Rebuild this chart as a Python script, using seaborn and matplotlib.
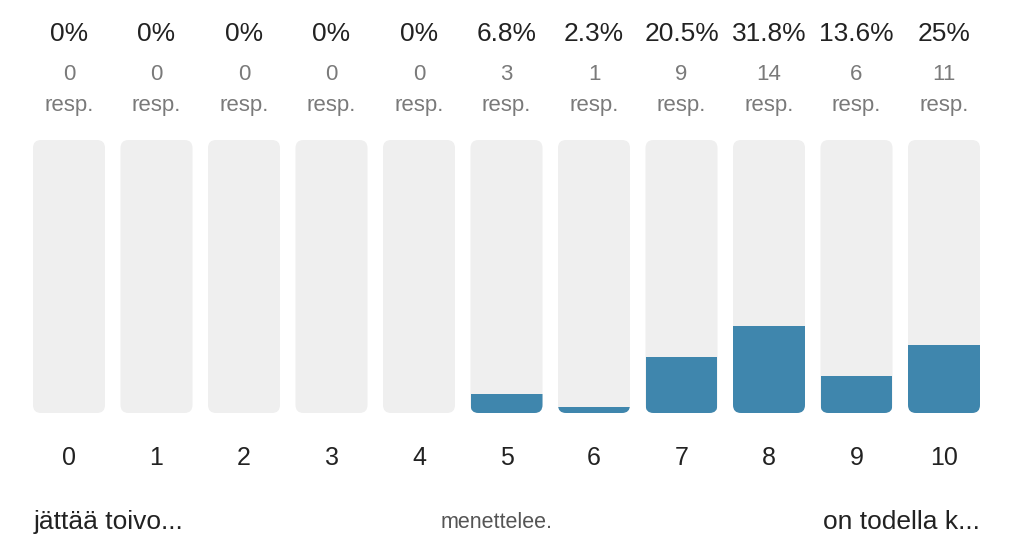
import matplotlib
matplotlib.use('Agg')
import matplotlib.pyplot as plt
import matplotlib.transforms as mtransforms
from matplotlib.patches import FancyBboxPatch
import seaborn as sns

scores = ['0', '1', '2', '3', '4', '5', '6', '7', '8', '9', '10']
responses = [0, 0, 0, 0, 0, 3, 1, 9, 14, 6, 11]
percents = [0, 0, 0, 0, 0, 6.8, 2.3, 20.5, 31.8, 13.6, 25]
full = [100] * len(scores)
left_label = 'jättää toivo...'
mid_label = 'menettelee.'
right_label = 'on todella k...'

track = '#efefef'
blue = '#3f86ad'
dark = '#222222'
grey = '#7a7a7a'

sns.set_style('white')
plt.rcParams['font.family'] = ['Liberation Sans', 'DejaVu Sans']

fig = plt.figure(figsize=(10.24, 5.6), dpi=100)
ax = fig.add_axes([25.25 / 1024, (560 - 413) / 560, 962.5 / 1024, 273 / 560])

w = 72 / 87.5
sns.barplot(x=scores, y=full, color=track, width=w, saturation=1, ax=ax)
sns.barplot(x=scores, y=percents, color=blue, width=w, saturation=1, ax=ax)
ax.set_xlim(-0.5, 10.5)
ax.set_ylim(0, 100)

n = len(scores)
bg = ax.patches[:n]
fg = ax.patches[n:2 * n]
# corner radius ~8 px, in data units
rx = 8 / 87.5
ry = 8 / 273 * 100
for b, f in zip(bg, fg):
    rp = FancyBboxPatch((b.get_x(), b.get_y()), b.get_width(), b.get_height(),
                        boxstyle=f'round,pad=0,rounding_size={rx}',
                        mutation_aspect=ry / rx, facecolor=track,
                        edgecolor='none', zorder=1)
    ax.add_patch(rp)
    b.set_visible(False)
    f.set_zorder(2)
    f.set_edgecolor('none')
    f.set_clip_path(rp)

for s in ax.spines.values():
    s.set_visible(False)
ax.set_yticks([])
ax.tick_params(axis='x', length=0, pad=23.5, labelsize=18, labelcolor=dark)
ax.set_xlabel('')
ax.set_ylabel('')

tr = mtransforms.blended_transform_factory(ax.transData, fig.transFigure)
for i in range(n):
    ax.text(i, 1 - 34 / 560, f'{percents[i]:g}%', transform=tr, ha='center',
            va='center', fontsize=19, color=dark)
    ax.text(i, 1 - 75 / 560, str(responses[i]), transform=tr, ha='center',
            va='center', fontsize=16, color=grey)
    ax.text(i, 1 - 106 / 560, 'resp.', transform=tr, ha='center',
            va='center', fontsize=16, color=grey)

ax.text(-0.5 + 8 / 87.5, 1 - 522 / 560, left_label, transform=tr, ha='left',
        va='center', fontsize=19, color=dark)
ax.text(4.89, 1 - 522 / 560, mid_label, transform=tr, ha='center',
        va='center', fontsize=15.5, color='#555555')
ax.text(10.5 - 8 / 87.5, 1 - 522 / 560, right_label, transform=tr, ha='right',
        va='center', fontsize=19, color=dark)

fig.savefig('out.png', dpi=100)
